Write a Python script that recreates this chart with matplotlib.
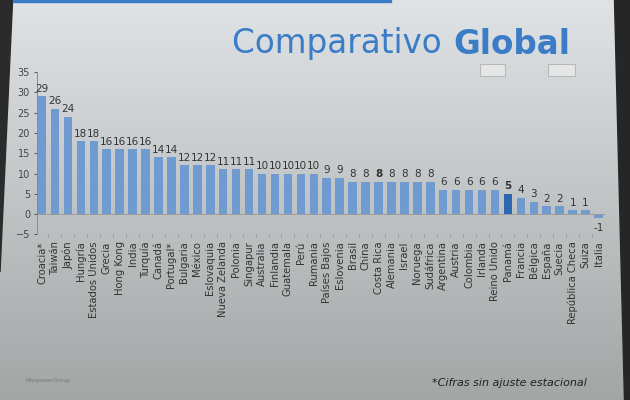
import numpy as np
from matplotlib import pyplot as plt
from matplotlib.patches import Polygon, Rectangle

# datos
paises = ['Croacia*', 'Taiwán', 'Japón', 'Hungría', 'Estados Unidos', 'Grecia',
          'Hong Kong', 'India', 'Turquía', 'Canadá', 'Portugal*', 'Bulgaria',
          'México', 'Eslovaquia', 'Nueva Zelanda', 'Polonia', 'Singapur',
          'Australia', 'Finlandia', 'Guatemala', 'Perú', 'Rumania',
          'Países Bajos', 'Eslovenia', 'Brasil', 'China', 'Costa Rica',
          'Alemania', 'Israel', 'Noruega', 'Sudáfrica', 'Argentina', 'Austria',
          'Colombia', 'Irlanda', 'Reino Unido', 'Panamá', 'Francia', 'Bélgica',
          'España', 'Suecia', 'República Checa', 'Suiza', 'Italia']
valores = [29, 26, 24, 18, 18, 16, 16, 16, 16, 14, 14, 12, 12, 12, 11, 11, 11,
           10, 10, 10, 10, 10, 9, 9, 8, 8, 8, 8, 8, 8, 8, 6, 6, 6, 6, 6, 5, 4,
           3, 2, 2, 1, 1, -1]
destacado = 'Panamá'
yticks = [-5, 0, 5, 10, 15, 20, 25, 30, 35]

fig = plt.figure(figsize=(6.3, 4), dpi=100)

# fondo de la foto (degradado gris)
bg = fig.add_axes([0, 0, 1, 1], zorder=-10)
grad = np.linspace(0, 1, 200)[:, None] * np.ones((1, 10))
top = np.array([0.875, 0.89, 0.9])
bottom = np.array([0.64, 0.65, 0.65])
img = top[None, None, :] * (1 - grad[:, :, None]) + bottom[None, None, :] * grad[:, :, None]
bg.imshow(img, aspect='auto', extent=[0, 1, 0, 1], origin='upper')
bg.add_patch(Polygon([[0, 1], [0.02, 1], [0.0, 0.32], [0, 0.32]], color='#2b2b2b'))
bg.add_patch(Polygon([[0.975, 1], [1, 1], [1, 0], [0.99, 0]], color='#262626'))
bg.add_patch(Rectangle((0.02, 0.995), 0.6, 0.005, color='#3a7cc6'))
bg.add_patch(Rectangle((0.762, 0.81), 0.04, 0.03, facecolor='#e4e6e6', edgecolor='#b0b0b0', lw=0.6))
bg.add_patch(Rectangle((0.87, 0.81), 0.043, 0.03, facecolor='#e4e6e6', edgecolor='#b0b0b0', lw=0.6))
bg.set_xlim(0, 1)
bg.set_ylim(0, 1)
bg.axis('off')

ax = fig.add_axes([0.0587, 0.414, 0.9016, 0.406])
ax.patch.set_alpha(0)
x = np.arange(len(paises))
colores = ['#2c68b0' if p == destacado else '#6f9bd0' for p in paises]
ax.bar(x, valores, width=0.66, color=colores)

for i, v in enumerate(valores):
    peso = 'bold' if paises[i] in (destacado, 'Costa Rica') else 'normal'
    if v >= 0:
        ax.text(i, v + 0.6, str(v), ha='center', va='bottom', fontsize=7.5,
                color='#333333', fontweight=peso)
    else:
        ax.text(i, v - 1.2, str(v), ha='center', va='top', fontsize=7.5,
                color='#333333')

ax.set_xlim(-0.39, 43.5)
ax.set_ylim(-5, 35)
ax.set_yticks(yticks)
ax.tick_params(axis='y', labelsize=7, colors='#444444', length=2, width=0.6, pad=3)
ax.set_xticks(x)
ax.set_xticklabels(paises, rotation=90, fontsize=7.2, color='#333333')
ax.tick_params(axis='x', length=0, pad=5)
ax.set_xticks(x[:-1] + 0.5, minor=True)
ax.tick_params(axis='x', which='minor', length=2.5, width=0.5, color='#888888')

for s in ['top', 'right', 'bottom']:
    ax.spines[s].set_visible(False)
ax.spines['left'].set_color('#888888')
ax.spines['left'].set_linewidth(0.7)
ax.axhline(0, color='#999999', lw=0.7)

t1 = fig.text(0.368, 0.89, 'Comparativo ', fontsize=23.5, color='#3a7cc6',
              va='center', ha='left')
fig.canvas.draw()
ax.annotate('Global', xy=(1, 0.5), xycoords=t1, xytext=(1, 0),
            textcoords='offset points', fontsize=23.5, color='#3a7cc6',
            va='center', ha='left', fontweight='bold', annotation_clip=False)
fig.text(0.04, 0.045, 'ManpowerGroup', fontsize=4, color='#777777')
fig.text(0.685, 0.035, '*Cifras sin ajuste estacional', fontsize=8, style='italic',
         color='#222222')

fig.savefig('out.png', dpi=100)
